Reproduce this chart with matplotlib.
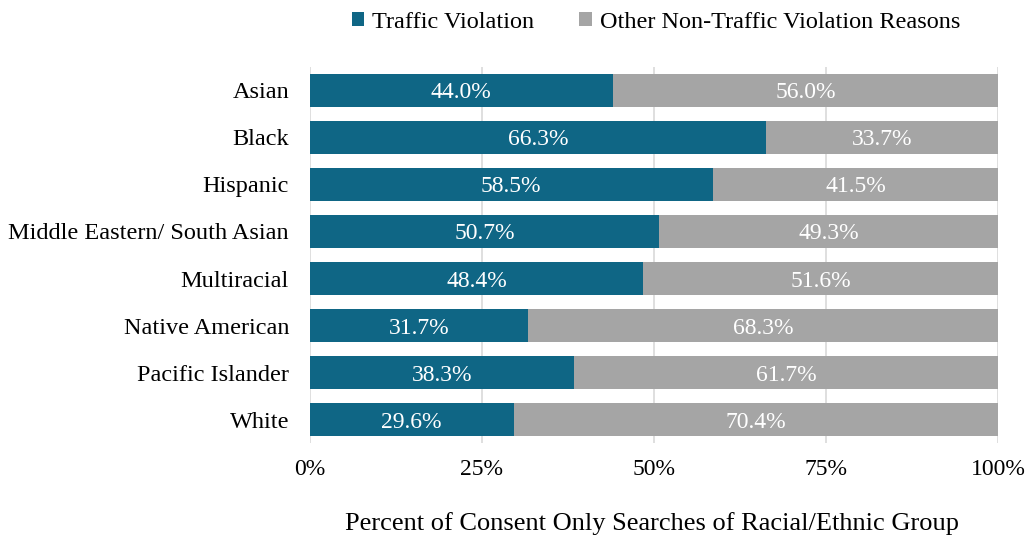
import matplotlib
matplotlib.use("Agg")
import matplotlib.pyplot as plt
import numpy as np

plt.rcParams['font.family'] = ['Liberation Serif', 'DejaVu Serif']

groups = ["Asian", "Black", "Hispanic", "Middle Eastern/ South Asian",
          "Multiracial", "Native American", "Pacific Islander", "White"]
traffic = [44.0, 66.3, 58.5, 50.7, 48.4, 31.7, 38.3, 29.6]
other = [56.0, 33.7, 41.5, 49.3, 51.6, 68.3, 61.7, 70.4]

blue = '#0F6685'
gray = '#A5A5A5'

fig = plt.figure(figsize=(10.26, 5.38), dpi=100)
ax = fig.add_axes([0.302, 0.176, 0.671, 0.700])

y = np.arange(len(groups))
b1 = ax.barh(y, traffic, height=0.7, color=blue, label='Traffic Violation', zorder=3)
b2 = ax.barh(y, other, left=traffic, height=0.7, color=gray,
             label='Other Non-Traffic Violation Reasons', zorder=3)

# value labels centred in each segment
for bars in (b1, b2):
    for rect in bars:
        w = rect.get_width()
        ax.text(rect.get_x() + w / 2, rect.get_y() + rect.get_height() / 2,
                f"{w:.1f}%", ha='center', va='center_baseline', color='white',
                fontsize=17, zorder=4)

ax.set_ylim(len(groups) - 0.5, -0.5)
ax.set_xlim(0, 100)
ax.set_yticks(y)
ax.set_yticklabels(groups, fontsize=17.5)
ax.set_xticks([0, 25, 50, 75, 100])
ax.set_xticklabels(['0%', '25%', '50%', '75%', '100%'], fontsize=17)
ax.tick_params(length=0, pad=11, axis='x')
ax.tick_params(length=0, pad=15, axis='y')
ax.grid(axis='x', color='#D9D9D9', linewidth=1.2, zorder=0)
for s in ax.spines.values():
    s.set_visible(False)

fig.text(0.635, 1 - 524 / 538, 'Percent of Consent Only Searches of Racial/Ethnic Group',
         ha='center', va='center', fontsize=19)

fig.legend(handles=[b1, b2], loc='center', bbox_to_anchor=(656 / 1026, 1 - 22 / 538),
           ncol=2, frameon=False, fontsize=17.5, handlelength=0.5, handleheight=0.5,
           handletextpad=0.35, columnspacing=1.85, borderaxespad=0, borderpad=0)

fig.savefig('out.png', dpi=100)
